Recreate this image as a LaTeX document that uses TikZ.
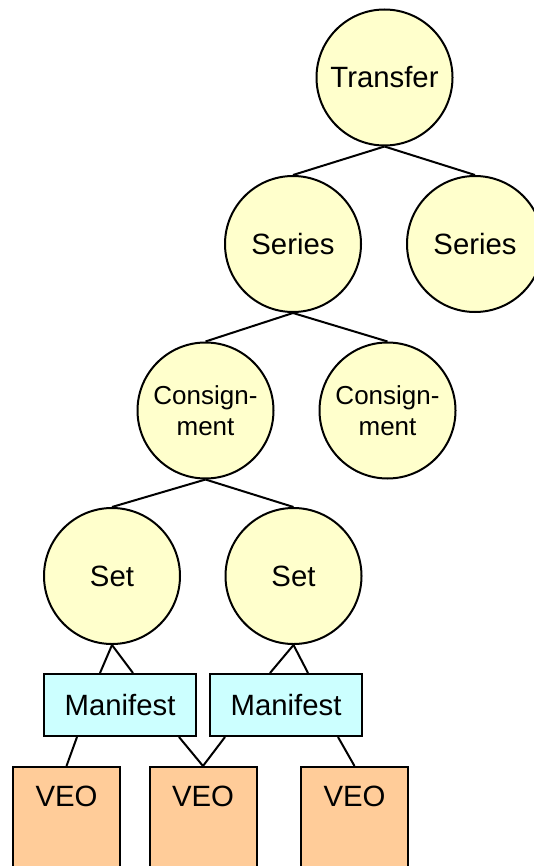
\documentclass[tikz,border=0pt]{standalone}
\usepackage{fontspec}
\setmainfont{Liberation Sans}
\usetikzlibrary{calc}
\definecolor{nodeyellow}{HTML}{FFFFCC}
\definecolor{manifestcyan}{HTML}{CCFFFF}
\definecolor{veoorange}{HTML}{FFCC99}

\begin{document}
\begin{tikzpicture}[x=0.75pt, y=-0.75pt, line width=1.5pt,
  every node/.style={font=\fontsize{22}{23.5}\selectfont},
  treecircle/.style={circle, draw, fill=nodeyellow, minimum size=102pt, inner sep=0pt, align=center},
  smalltext/.style={font=\fontsize{19.5}{23.25}\selectfont},
  manifestbox/.style={rectangle, draw, fill=manifestcyan, minimum width=114pt, minimum height=46.5pt, inner sep=0pt},
  veobox/.style={rectangle, draw, fill=veoorange, minimum width=80.25pt, inner sep=0pt, anchor=north, text height=29.25pt, text depth=70pt},
  link/.style={draw, line width=1.5pt}]
  \useasboundingbox (0,0) rectangle (534,866);
  \clip (0,0) rectangle (534,866);

  % hierarchy of circles
  \node[treecircle] (transfer) at (384.5,77.5) {Transfer};
  \node[treecircle] (seriesA) at (293,244) {Series};
  \node[treecircle] (seriesB) at (475,244) {Series};
  \node[treecircle, smalltext] (consA) at (205.5,410.5) {Consign-\\ment};
  \node[treecircle, smalltext] (consB) at (387.5,410.5) {Consign-\\ment};
  \node[treecircle] (setA) at (112,576) {Set};
  \node[treecircle] (setB) at (293.5,576) {Set};

  % manifests
  \node[manifestbox] (manA) at (120,705) {Manifest};
  \node[manifestbox] (manB) at (286,705) {Manifest};

  % VEO boxes, running off the bottom edge
  \node[veobox] (veoA) at (66.5,766) {VEO};
  \node[veobox] (veoB) at (203,766) {VEO};
  \node[veobox] (veoC) at (354.5,766) {VEO};

  % tree links
  \draw[link] (transfer.south) -- (seriesA.north);
  \draw[link] (transfer.south) -- (seriesB.north);
  \draw[link] (seriesA.south) -- (consA.north);
  \draw[link] (seriesA.south) -- (consB.north);
  \draw[link] (consA.south) -- (setA.north);
  \draw[link] (consA.south) -- (setB.north);

  \draw[link] (setA.south) -- ($(manA.north west)+(57,0)$);
  \draw[link] (setA.south) -- ($(manA.north west)+(90,0)$);
  \draw[link] (setB.south) -- ($(manB.north west)+(61,0)$);
  \draw[link] (setB.south) -- ($(manB.north west)+(99,0)$);

  \draw[link] ($(manA.south west)+(34,0)$) -- (veoA.north);
  \draw[link] ($(manA.south west)+(136,0)$) -- (veoB.north);
  \draw[link] ($(manB.south west)+(16,0)$) -- (veoB.north);
  \draw[link] ($(manB.south west)+(129,0)$) -- (veoC.north);
\end{tikzpicture}
\end{document}
